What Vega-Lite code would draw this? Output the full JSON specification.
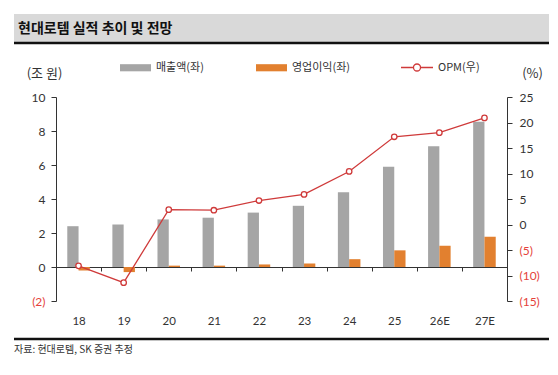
{
  "$schema": "https://vega.github.io/schema/vega-lite/v6.json",
  "padding": {"left": 12, "top": 14, "right": 0, "bottom": 0},
  "autosize": {"type": "pad"},
  "config": {
    "view": {"stroke": null},
    "font": "Noto Sans CJK KR",
    "axis": {"labelFont": "Noto Sans CJK KR", "titleFont": "Noto Sans CJK KR"},
    "legend": {"labelFont": "Noto Sans CJK KR"}
  },
  "datasets": {
    "perf": [
      {"year": "18", "series": "매출액(좌)", "value": 2.4},
      {"year": "19", "series": "매출액(좌)", "value": 2.5},
      {"year": "20", "series": "매출액(좌)", "value": 2.8},
      {"year": "21", "series": "매출액(좌)", "value": 2.9},
      {"year": "22", "series": "매출액(좌)", "value": 3.2},
      {"year": "23", "series": "매출액(좌)", "value": 3.6},
      {"year": "24", "series": "매출액(좌)", "value": 4.4},
      {"year": "25", "series": "매출액(좌)", "value": 5.9},
      {"year": "26E", "series": "매출액(좌)", "value": 7.1},
      {"year": "27E", "series": "매출액(좌)", "value": 8.55},
      {"year": "18", "series": "영업이익(좌)", "value": -0.2},
      {"year": "19", "series": "영업이익(좌)", "value": -0.3},
      {"year": "20", "series": "영업이익(좌)", "value": 0.08},
      {"year": "21", "series": "영업이익(좌)", "value": 0.08},
      {"year": "22", "series": "영업이익(좌)", "value": 0.15},
      {"year": "23", "series": "영업이익(좌)", "value": 0.21},
      {"year": "24", "series": "영업이익(좌)", "value": 0.46},
      {"year": "25", "series": "영업이익(좌)", "value": 0.98},
      {"year": "26E", "series": "영업이익(좌)", "value": 1.25},
      {"year": "27E", "series": "영업이익(좌)", "value": 1.78},
      {"year": "18", "series": "OPM(우)", "value": -8.1},
      {"year": "19", "series": "OPM(우)", "value": -11.4},
      {"year": "20", "series": "OPM(우)", "value": 2.9},
      {"year": "21", "series": "OPM(우)", "value": 2.8},
      {"year": "22", "series": "OPM(우)", "value": 4.7},
      {"year": "23", "series": "OPM(우)", "value": 5.9},
      {"year": "24", "series": "OPM(우)", "value": 10.4},
      {"year": "25", "series": "OPM(우)", "value": 17.2},
      {"year": "26E", "series": "OPM(우)", "value": 18.0},
      {"year": "27E", "series": "OPM(우)", "value": 20.9}
    ]
  },
  "vconcat": [
    {
      "width": 535,
      "height": 29,
      "view": {"fill": "#d9d9d9", "stroke": null},
      "data": {"values": [{"title": "현대로템 실적 추이 및 전망"}]},
      "layer": [
        {
          "mark": {"type": "rule", "color": "#111111", "strokeWidth": 2.5},
          "encoding": {"y": {"value": "height"}}
        },
        {
          "mark": {
            "type": "text",
            "align": "left",
            "baseline": "middle",
            "dx": 4,
            "fontSize": 14,
            "fontWeight": "bold",
            "font": "Noto Sans CJK KR",
            "color": "#111111"
          },
          "encoding": {
            "text": {"field": "title", "type": "nominal"},
            "x": {"datum": 0, "type": "quantitative", "scale": {"domain": [0, 1]}, "axis": null}
          }
        }
      ]
    },
    {
      "width": 451,
      "height": 220,
      "data": {"name": "perf"},
      "layer": [
        {
          "transform": [{"filter": "datum.series !== 'OPM(우)'"}],
          "mark": {"type": "bar"},
          "encoding": {
            "x": {
              "field": "year",
              "type": "nominal",
              "sort": null,
              "scale": {"paddingInner": 0, "paddingOuter": 0},
              "axis": {
                "title": null,
                "orient": "bottom",
                "offset": -34,
                "labelAngle": 0,
                "tickBand": "extent",
                "tickSize": 4,
                "tickColor": "#333333",
                "domainColor": "#333333",
                "labelPadding": 44,
                "labelFontSize": 11.5,
                "labelColor": "#333333",
                "labelFont": "Lato"
              }
            },
            "xOffset": {
              "field": "series",
              "type": "nominal",
              "sort": ["매출액(좌)", "영업이익(좌)"],
              "scale": {"paddingInner": 0, "paddingOuter": 1.05}
            },
            "y": {
              "field": "value",
              "type": "quantitative",
              "scale": {"domain": [-2, 10], "nice": false, "range": [220, 16]},
              "axis": {
                "values": [-2, 0, 2, 4, 6, 8, 10],
                "labelExpr": "datum.value < 0 ? '(' + abs(datum.value) + ')' : datum.value",
                "labelColor": {"condition": {"test": "datum.value < 0", "value": "#e5423b"}, "value": "#333333"},
                "grid": false,
                "domainColor": "#333333",
                "tickColor": "#333333",
                "tickSize": 5,
                "labelPadding": 6,
                "labelFontSize": 12,
                "labelFont": "Lato",
                "title": "(조 원)",
                "titleAngle": 0,
                "titleX": -12,
                "titleY": -8,
                "titleAlign": "center",
                "titleBaseline": "middle",
                "titleFontSize": 13,
                "titleFontWeight": "normal",
                "titleColor": "#333333"
              }
            },
            "color": {
              "field": "series",
              "type": "nominal",
              "scale": {"domain": ["매출액(좌)", "영업이익(좌)"], "range": ["#a5a5a5", "#e2802f"]},
              "legend": {
                "title": null,
                "orient": "none",
                "direction": "horizontal",
                "legendX": 63,
                "legendY": -30,
                "symbolType": "M-1,-0.23H1V0.23H-1Z",
                "symbolSize": 961,
                "symbolOpacity": 1,
                "labelOffset": 4,
                "columnPadding": 51,
                "labelFontSize": 11,
                "labelColor": "#333333"
              }
            }
          }
        },
        {
          "transform": [{"filter": "datum.series === 'OPM(우)'"}],
          "mark": {
            "type": "line",
            "strokeWidth": 1.3,
            "point": {"filled": false, "fill": "white", "size": 30, "strokeWidth": 1.3}
          },
          "encoding": {
            "x": {"field": "year", "type": "nominal", "sort": null},
            "y": {
              "field": "value",
              "type": "quantitative",
              "scale": {"domain": [-15, 25], "nice": false, "range": [220, 16]},
              "axis": {
                "orient": "right",
                "values": [-15, -10, -5, 0, 5, 10, 15, 20, 25],
                "labelExpr": "datum.value < 0 ? '(' + abs(datum.value) + ')' : datum.value",
                "labelColor": {"condition": {"test": "datum.value < 0", "value": "#e5423b"}, "value": "#333333"},
                "grid": false,
                "domainColor": "#333333",
                "tickColor": "#333333",
                "tickSize": 5,
                "labelPadding": 7,
                "labelFontSize": 12,
                "labelFont": "Lato",
                "title": "(%)",
                "titleAngle": 0,
                "titleX": 25,
                "titleY": -8,
                "titleAlign": "center",
                "titleBaseline": "middle",
                "titleFontSize": 13,
                "titleFontWeight": "normal",
                "titleColor": "#333333"
              }
            },
            "color": {
              "field": "series",
              "type": "nominal",
              "scale": {"domain": ["OPM(우)"], "range": ["#cf3a3a"]},
              "legend": {
                "title": null,
                "orient": "none",
                "legendX": 344,
                "legendY": -30.5,
                "symbolType": "M-1,0H-0.22M0.22,0H1M-0.22,0A0.22,0.22 0 1,1 0.22,0A0.22,0.22 0 1,1 -0.22,0Z",
                "symbolSize": 1024,
                "symbolStrokeWidth": 1.3,
                "symbolStrokeColor": "#cf3a3a",
                "labelOffset": 4,
                "labelFontSize": 11,
                "labelColor": "#333333"
              }
            }
          }
        }
      ],
      "resolve": {
        "scale": {"y": "independent", "color": "independent"},
        "legend": {"color": "independent"}
      }
    },
    {
      "width": 535,
      "height": 1,
      "view": {"stroke": null},
      "title": {
        "text": "자료: 현대로템, SK 증권 추정",
        "anchor": "start",
        "frame": "group",
        "orient": "bottom",
        "offset": 10,
        "baseline": "middle",
        "fontSize": 10,
        "fontWeight": "normal",
        "font": "Noto Sans CJK KR",
        "color": "#333333"
      },
      "data": {"values": [{"part": "footer"}]},
      "mark": {"type": "rule", "color": "#111111", "strokeWidth": 2.5},
      "encoding": {"y": {"value": 0}}
    }
  ],
  "spacing": 38,
  "center": true,
  "bounds": "flush"
}
